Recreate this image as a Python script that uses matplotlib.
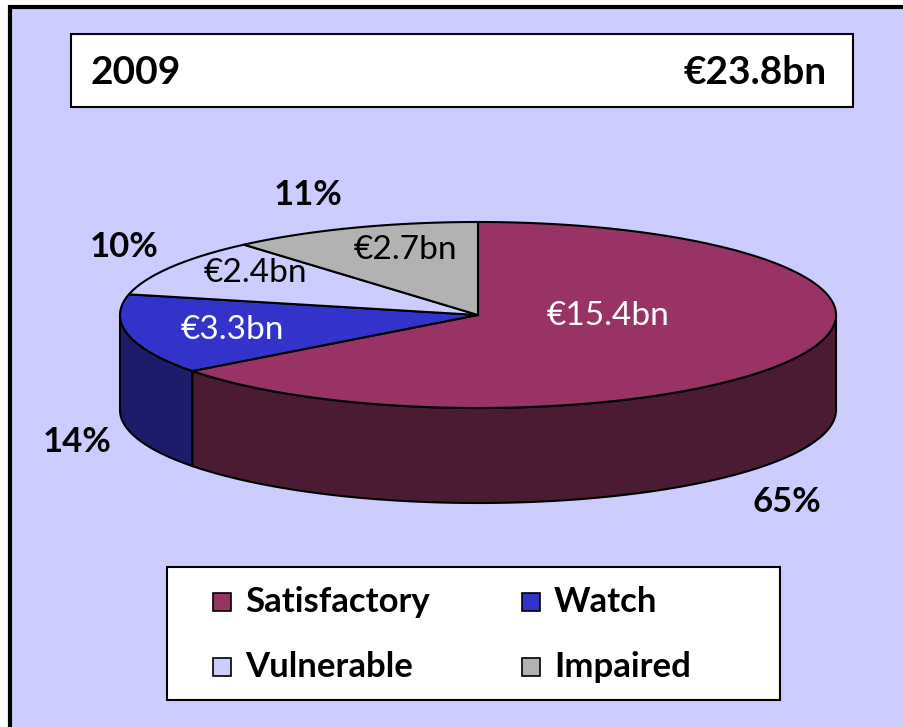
import numpy as np
import matplotlib.pyplot as plt
from matplotlib.patches import Rectangle, Polygon

# Data (2009 loan book by grade)
categories = ['Satisfactory', 'Watch', 'Vulnerable', 'Impaired']
values_bn = [15.4, 3.3, 2.4, 2.7]
pct_labels = ['65%', '14%', '10%', '11%']
value_labels = ['€15.4bn', '€3.3bn', '€2.4bn', '€2.7bn']
year_label = '2009'
total_label = '€23.8bn'

top_colors = ['#993366', '#3333CC', '#CCCCFF', '#B2B2B2']
side_colors = ['#4B1A33', '#1C1C6B', '#9999BF', '#858585']
value_colors = ['white', 'white', 'black', 'black']

# layout (pixel space, y downwards)
W, H = 904, 727
cx, cy, rx, ry, depth = 478, 315, 358, 93, 95
value_pos = [(608, 316), (232, 330), (255, 273), (405, 250)]
pct_pos = [(787, 502), (77, 442), (124, 247), (308, 195)]

plt.rcParams['font.family'] = ['Lato', 'DejaVu Sans']

fig = plt.figure(figsize=(W / 100, H / 100), dpi=100)
ax = fig.add_axes([0, 0, 1, 1])
ax.set_xlim(0, W)
ax.set_ylim(H, 0)
ax.axis('off')

# outer frame
ax.add_patch(Rectangle((10, 7), W + 20, H + 20, facecolor='#CCCCFF',
                       edgecolor='black', lw=3, zorder=0))

# title box
ax.add_patch(Rectangle((71, 34), 782, 73, facecolor='white',
                       edgecolor='black', lw=1.5, zorder=1))
ax.text(91, 72, year_label, fontsize=28, fontweight='bold', va='center', ha='left')
ax.text(827, 72, total_label, fontsize=28, fontweight='bold', va='center', ha='right')


def pt(t, dy=0.0):
    t = np.radians(t)
    return cx + rx * np.cos(t), cy - ry * np.sin(t) + dy


total = sum(values_bn)
cum = np.concatenate([[0], np.cumsum(values_bn)])
# clockwise from 12 o'clock
starts = 90 - cum[1:] / total * 360
ends = 90 - cum[:-1] / total * 360
starts = np.where(starts < 0, starts + 360, starts)
ends = np.where(ends <= starts, ends + 360, ends)

# side walls (front half only)
for i in range(len(values_bn)):
    a, b = max(starts[i], 180), min(ends[i], 360)
    if b <= a:
        continue
    t = np.linspace(a, b, 200)
    xs, ys = pt(t)
    xb, yb = pt(t[::-1], depth)
    poly = np.column_stack([np.concatenate([xs, xb]), np.concatenate([ys, yb])])
    ax.add_patch(Polygon(poly, closed=True, facecolor=side_colors[i],
                         edgecolor='black', lw=1.5, zorder=2))

# top faces
for i in range(len(values_bn)):
    t = np.linspace(starts[i], ends[i], 300)
    xs, ys = pt(t)
    poly = np.column_stack([np.concatenate([[cx], xs]), np.concatenate([[cy], ys])])
    ax.add_patch(Polygon(poly, closed=True, facecolor=top_colors[i],
                         edgecolor='black', lw=1.5, zorder=3))

for i in range(len(values_bn)):
    ax.text(*value_pos[i], value_labels[i], fontsize=24, color=value_colors[i],
            ha='center', va='center', zorder=5)
    ax.text(*pct_pos[i], pct_labels[i], fontsize=25, fontweight='bold',
            ha='center', va='center', zorder=5)

# legend
ax.add_patch(Rectangle((167, 567), 613, 133, facecolor='white',
                       edgecolor='black', lw=1.5, zorder=1))
leg_x = [213, 522]
leg_y = [602, 667]
for i, name in enumerate(categories):
    lx = leg_x[i % 2]
    ly = leg_y[i // 2]
    ax.add_patch(Rectangle((lx, ly - 9), 18, 18, facecolor=top_colors[i],
                           edgecolor='black', lw=1.2, zorder=4))
    ax.text(lx + 32, ly, name, fontsize=25, fontweight='bold',
            ha='left', va='center', zorder=5)

fig.savefig('out.png', dpi=100)
